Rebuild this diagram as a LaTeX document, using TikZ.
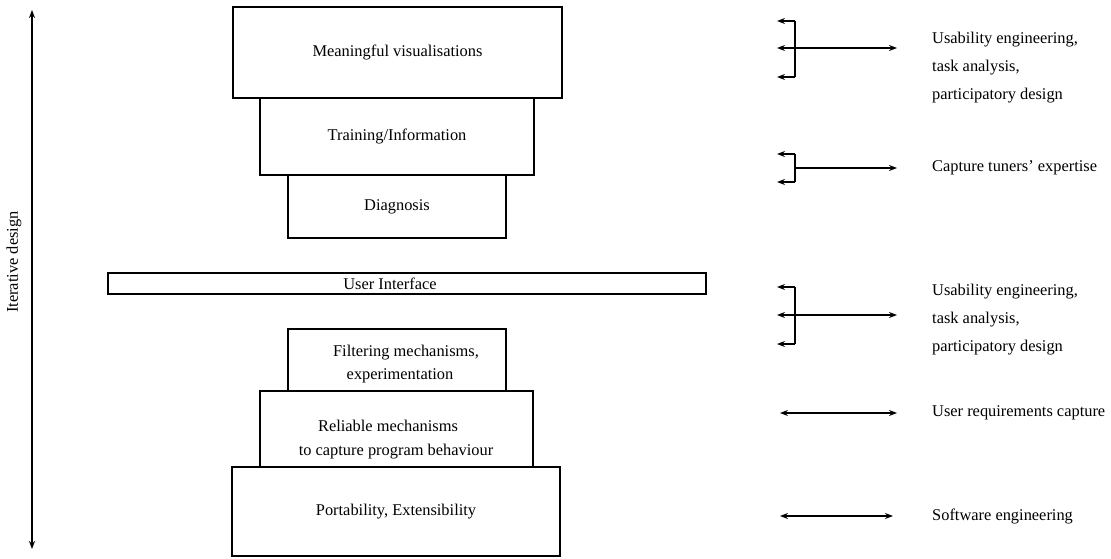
\documentclass[tikz,border=0pt]{standalone}
\usepackage{fontspec}
\setmainfont{Liberation Serif}
\usetikzlibrary{arrows.meta}
\begin{document}
\begin{tikzpicture}[x=1pt,y=-1pt,
  txt/.style={font=\fontsize{16.4pt}{20pt}\selectfont, inner sep=0pt},
  layer/.style={draw, line width=1.5pt, inner sep=0pt, outer sep=0pt, anchor=north west,
    font=\fontsize{16.4pt}{20pt}\selectfont, align=center},
  arr/.style={line width=1.4pt, -{Stealth[length=8pt,width=6pt]}},
  darr/.style={line width=1.4pt, {Stealth[length=8pt,width=6pt]}-{Stealth[length=8pt,width=6pt]}},
  bar/.style={line width=1.4pt},
  note/.style={font=\fontsize{16.4pt}{28pt}\selectfont, inner sep=0pt, anchor=west, align=left}]
\useasboundingbox (0,0) rectangle (1111,559);

% stacked layers above the user interface
\node[layer, minimum width=329pt, minimum height=91pt] (vis) at (233,7) {Meaningful visualisations};
\node[layer, minimum width=274pt, minimum height=77pt] (train) at (260,98) {Training/Information};
\node[layer, minimum width=218pt, minimum height=63pt] (diag) at (288,175) {Diagnosis};

% user interface bar
\node[layer, minimum width=598pt, minimum height=21pt] (ui) at (108,273) {};
\node[txt] (uitext) at (390,284) {User Interface};

% stacked layers below the user interface
\node[layer, minimum width=218pt, minimum height=62pt] (filt) at (288,329) {};
\node[txt] (filt1) at (406,353) {Filtering mechanisms,};
\node[txt] (filt2) at (400,376) {experimentation};
\node[layer, minimum width=273pt, minimum height=76pt] (rel) at (260,391) {};
\node[txt] (rel1) at (388,426) {Reliable mechanisms};
\node[txt] (rel2) at (396,452) {to capture program behaviour};
\node[layer, minimum width=328pt, minimum height=89pt] (port) at (232,467) {Portability, Extensibility};

% iterative design axis
\coordinate (itop) at (32,10);
\coordinate (ibot) at (32,549);
\draw[darr] (ibot) -- (itop);
\node[txt, rotate=90] (iter) at (14,262) {Iterative design};

% bracket 1: visualisations
\coordinate (a1) at (795,21);
\coordinate (a2) at (795,48);
\coordinate (a3) at (795,77);
\draw[bar] (a1) -- (a3);
\draw[arr] (a1) -- ++(-18,0) coordinate (a1l);
\draw[arr] (a2) -- ++(-18,0) coordinate (a2l);
\draw[arr] (a3) -- ++(-18,0) coordinate (a3l);
\coordinate (a2r) at (897,48);
\draw[arr] (a2) -- (a2r);
\node[note] (n1) at (932,68) {Usability engineering,\\task analysis,\\participatory design};

% bracket 2: training and diagnosis
\coordinate (b1) at (795,154);
\coordinate (b2) at (795,168);
\coordinate (b3) at (795,182);
\draw[bar] (b1) -- (b3);
\draw[arr] (b1) -- ++(-18,0) coordinate (b1l);
\draw[arr] (b3) -- ++(-18,0) coordinate (b3l);
\coordinate (b2r) at (897,168);
\draw[arr] (b2) -- (b2r);
\node[note] (n2) at (932,168) {Capture tuners' expertise};

% bracket 3: user interface
\coordinate (c1) at (795,287);
\coordinate (c2) at (795,315);
\coordinate (c3) at (795,344);
\draw[bar] (c1) -- (c3);
\draw[arr] (c1) -- ++(-18,0) coordinate (c1l);
\draw[arr] (c3) -- ++(-18,0) coordinate (c3l);
\coordinate (c2l) at (777,315);
\coordinate (c2r) at (897,315);
\draw[darr] (c2l) -- (c2r);
\node[note] (n3) at (932,320) {Usability engineering,\\task analysis,\\participatory design};

% single arrows
\coordinate (d1) at (780,413);
\coordinate (d2) at (897,413);
\draw[darr] (d1) -- (d2);
\node[note] (n4) at (932,413) {User requirements capture};
\coordinate (e1) at (780,516);
\coordinate (e2) at (893,516);
\draw[darr] (e1) -- (e2);
\node[note] (n5) at (932,516) {Software engineering};
\end{tikzpicture}
\end{document}
